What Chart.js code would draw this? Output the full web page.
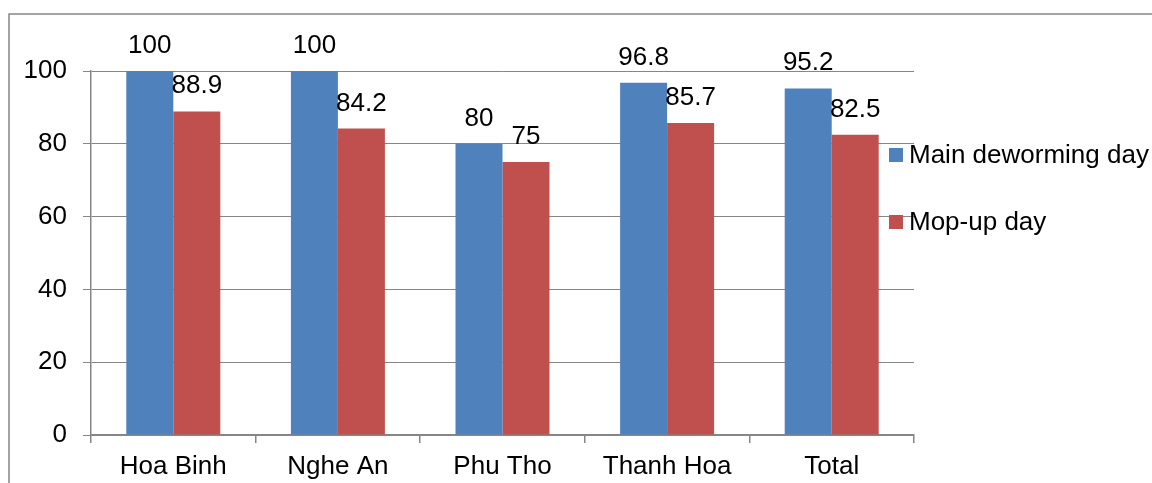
<!DOCTYPE html>
<html>
<head>
<meta charset="utf-8">
<script src="https://cdn.jsdelivr.net/npm/chart.js@4/dist/chart.umd.min.js"></script>
<style>
  html, body { margin: 0; padding: 0; background: #fff; }
  #wrap { width: 1152px; height: 483px; position: relative; }
</style>
</head>
<body>
<div id="wrap"><canvas id="chart" width="1152" height="483"></canvas></div>
<script>
// data
const categories = ['Hoa Binh', 'Nghe An', 'Phu Tho', 'Thanh Hoa', 'Total'];
const mainDay = [100, 100, 80, 96.8, 95.2];
const mopUpDay = [88.9, 84.2, 75, 85.7, 82.5];
const seriesNames = ['Main deworming day', 'Mop-up day'];
const yTicks = [0, 20, 40, 60, 80, 100];

const BLUE = '#4F81BD';
const RED = '#C0504D';
const GRID = '#868686';
const FONT = 'Liberation Sans, Arial, sans-serif';
const FS = 26;

// outer frame, value labels, legend
const extras = {
    id: 'extras',
    beforeDraw(chart) {
        const ctx = chart.ctx;
        ctx.save();
        ctx.strokeStyle = GRID;
        ctx.lineWidth = 1.5;
        ctx.strokeRect(9, 14, 1200, 600);
        ctx.restore();
    },
    afterDatasetsDraw(chart) {
        const ctx = chart.ctx;
        ctx.save();
        ctx.font = FS + 'px ' + FONT;
        ctx.fillStyle = '#000';
        ctx.textAlign = 'center';
        ctx.textBaseline = 'alphabetic';
        chart.data.datasets.forEach((ds, i) => {
            chart.getDatasetMeta(i).data.forEach((bar, j) => {
                ctx.fillText(String(ds.data[j]), bar.x, bar.y - 18);
            });
        });

        // legend
        const items = [
            { name: seriesNames[0], color: BLUE, y: 155 },
            { name: seriesNames[1], color: RED, y: 222 }
        ];
        ctx.textAlign = 'left';
        ctx.textBaseline = 'middle';
        items.forEach(it => {
            ctx.fillStyle = it.color;
            ctx.fillRect(889, it.y - 7, 14, 14);
            ctx.fillStyle = '#000';
            ctx.fillText(it.name, 909, it.y + 1);
        });
        ctx.restore();
    }
};

new Chart(document.getElementById('chart'), {
    type: 'bar',
    data: {
        labels: categories,
        datasets: [
            { label: seriesNames[0], data: mainDay, backgroundColor: BLUE },
            { label: seriesNames[1], data: mopUpDay, backgroundColor: RED }
        ]
    },
    options: {
        responsive: false,
        animation: false,
        events: [],
        datasets: {
            bar: { barPercentage: 1, categoryPercentage: 0.571 }
        },
        layout: { padding: { left: 0, right: 238, top: 71, bottom: 0 } },
        scales: {
            y: {
                min: 0,
                max: 100,
                afterBuildTicks: (axis) => { axis.ticks = yTicks.map(v => ({ value: v })); },
                afterFit: (axis) => { axis.width = 91; },
                ticks: { color: '#000', font: { size: FS, family: FONT }, padding: 16 },
                grid: { color: GRID, lineWidth: 1, tickLength: 8, tickColor: GRID },
                border: { color: GRID, width: 1.5 }
            },
            x: {
                afterFit: (axis) => { axis.height = 48; },
                ticks: { color: '#000', font: { size: FS, family: FONT }, padding: 8 },
                grid: { offset: true, drawOnChartArea: false, tickLength: 8, color: GRID, lineWidth: 1.5 },
                border: { color: GRID, width: 1.5 }
            }
        },
        plugins: {
            legend: { display: false },
            tooltip: { enabled: false }
        }
    },
    plugins: [extras]
});
</script>
</body>
</html>
